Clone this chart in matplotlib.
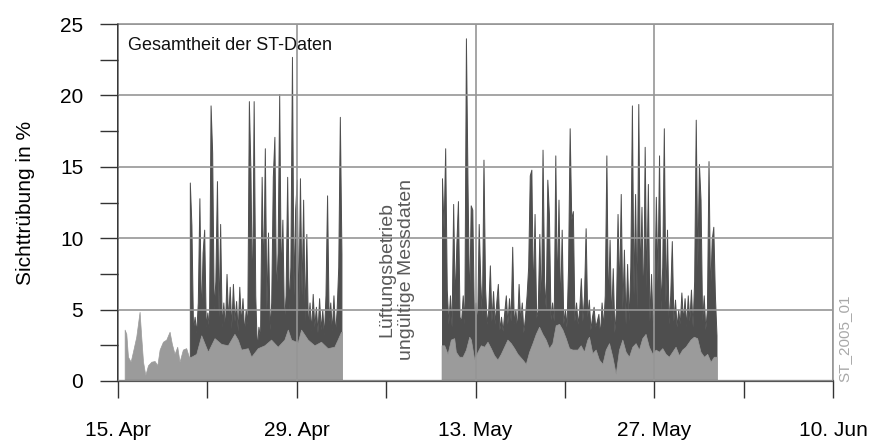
import matplotlib
matplotlib.use("Agg")
import matplotlib.pyplot as plt
import matplotlib.dates as mdates
import numpy as np
import pandas as pd

plt.rcParams['font.family'] = ['Liberation Sans', 'DejaVu Sans']

# ---------------- data ----------------
# ST data (dark), 3-hourly samples
dark1_start = "2005-04-20 15:00"
dark1_vals = [13.9, 10.9, 3.6, 4.5, 3.4, 5.5, 12.8, 4.2,
              9.0, 10.6, 3.8, 4.8, 3.6, 19.3, 16.0, 5.0,
              7.0, 14.0, 4.5, 11.0, 3.8, 5.5, 3.6, 7.5,
              4.2, 6.6, 3.7, 6.8, 4.2, 5.6, 3.5, 6.6,
              4.0, 5.8, 3.4, 5.0, 4.0, 19.6, 14.6, 5.0,
              19.6, 6.0, 2.2, 3.8, 3.0, 14.3, 7.0, 16.3,
              5.0, 10.4, 3.6, 5.5, 14.3, 17.1, 6.0, 9.0,
              20.1, 7.0, 11.3, 4.0, 6.0, 14.3, 5.0, 8.0,
              22.7, 6.0, 12.0, 14.1, 4.5, 14.2, 6.0, 12.7,
              4.2, 10.3, 3.6, 5.5, 3.5, 6.1, 3.8, 5.2,
              3.4, 5.8, 3.6, 5.0, 3.2, 6.0, 13.0, 4.2,
              5.5, 3.5, 6.0, 3.3, 5.0, 8.0, 18.5, 8.9]

dark2_start = "2005-05-10 09:00"
dark2_vals = [14.2, 10.6, 16.3, 6.4, 4.0, 6.0, 3.8, 12.4,
              5.5, 9.6, 12.6, 4.5, 4.2, 6.0, 4.0, 24.0,
              13.8, 5.0, 12.3, 12.0, 4.2, 5.5, 3.8, 11.0,
              7.0, 4.5, 15.5, 6.5, 4.0, 5.0, 8.1, 4.2,
              6.3, 4.0, 5.5, 6.8, 3.6, 4.5, 3.5, 4.8,
              6.0, 4.0, 5.8, 4.2, 9.4, 4.0, 5.0, 3.6,
              6.8, 4.2, 5.5, 3.4, 4.5, 6.0, 8.0, 14.4,
              14.8, 5.5, 11.7, 4.4, 5.0, 10.3, 4.5, 16.2,
              7.0, 5.0, 14.1, 11.7, 4.3, 5.5, 4.2, 15.8,
              6.0, 12.7, 4.8, 10.6, 4.0, 5.0, 3.8, 8.0,
              17.7, 11.3, 11.9, 4.2, 5.5, 4.0, 5.0, 7.2,
              4.2, 6.0, 10.7, 4.5, 5.7, 3.6, 4.5, 5.2,
              3.8, 4.2, 4.7, 3.2, 5.5, 3.8, 6.0, 15.8,
              5.0, 9.9, 4.2, 7.9, 3.4, 5.0, 11.7, 6.0,
              13.1, 5.0, 9.2, 4.0, 8.2, 4.2, 8.0, 19.3,
              6.0, 13.1, 5.0, 19.4, 7.0, 12.2, 4.5, 16.4,
              6.5, 13.8, 4.2, 7.5, 3.8, 5.5, 12.9, 7.0,
              15.8, 5.0, 8.0, 17.7, 5.5, 10.6, 4.0, 6.0,
              9.8, 4.2, 5.7, 3.8, 5.0, 4.0, 6.2, 4.2,
              5.8, 3.8, 6.0, 4.2, 6.4, 3.8, 7.0, 18.3,
              8.0, 15.2, 12.7, 4.2, 6.0, 3.6, 5.0, 15.4,
              6.0, 9.9, 10.8, 6.0, 3.2]

# lower (light grey) series: days since 15 Apr 2005 and values
light1_days = [0.52, 0.65, 0.78, 0.99, 1.17, 1.43, 1.69, 1.82, 1.96, 2.14,
               2.35, 2.61, 2.87, 3.08, 3.26, 3.52, 3.78, 4.04, 4.22, 4.43,
               4.64, 4.82, 5.08, 5.34, 5.55, 5.74, 6.13, 6.52, 7.04, 7.56,
               8.08, 8.6, 9.12, 9.38, 9.65, 10.17, 10.43, 10.95, 11.47, 11.99,
               12.51, 13.03, 13.3, 13.56, 14.08, 14.34, 14.86, 15.38, 15.9, 16.42,
               16.94, 17.2, 17.47, 17.55]
light1_vals = [3.6, 3.3, 1.7, 1.35, 2.05, 3.1, 4.85, 3.1, 1.35, 0.42,
               1.1, 1.35, 1.4, 1.1, 2.2, 2.75, 2.9, 3.45, 2.6, 1.9,
               2.4, 1.35, 2.2, 2.3, 1.7, 1.7, 1.9, 3.2, 2.05, 3.0,
               2.6, 2.5, 3.3, 2.9, 2.2, 2.3, 1.7, 2.3, 2.5, 2.9,
               2.4, 2.9, 3.6, 2.9, 2.7, 3.6, 2.9, 2.5, 2.75, 2.3,
               2.4, 2.9, 3.45, 3.45]

light2_days = [25.34, 25.55, 25.81, 26.07, 26.33, 26.46, 26.72, 26.99, 27.25, 27.51,
               27.64, 27.9, 28.16, 28.42, 28.68, 28.94, 29.2, 29.46, 29.72, 29.98,
               30.24, 30.5, 30.77, 31.03, 31.29, 31.68, 31.94, 32.2, 32.46, 32.72,
               32.98, 33.24, 33.5, 33.76, 34.02, 34.28, 34.55, 34.81, 35.07, 35.33,
               35.59, 35.98, 36.24, 36.5, 36.76, 36.89, 37.15, 37.41, 37.67, 37.94,
               38.2, 38.46, 38.72, 38.98, 39.24, 39.5, 39.76, 40.02, 40.28, 40.54,
               40.8, 41.06, 41.32, 41.58, 41.85, 42.11, 42.37, 42.63, 42.89, 43.15,
               43.41, 43.67, 43.93, 44.19, 44.45, 44.84, 45.1, 45.36, 45.62, 45.89,
               46.15, 46.41, 46.67, 46.88]
light2_vals = [2.5, 2.5, 1.9, 2.9, 3.0, 2.05, 1.7, 1.7, 2.2, 3.1,
               2.9, 1.5, 2.05, 2.5, 2.4, 2.75, 2.3, 1.8, 1.5, 1.9,
               2.4, 2.9, 2.65, 2.3, 1.9, 1.5, 1.2, 2.05, 2.65, 3.3,
               3.8, 3.3, 2.9, 2.3, 2.65, 3.9, 4.0, 3.6, 3.0, 2.3,
               2.2, 2.2, 2.5, 2.05, 2.9, 3.1, 1.95, 2.2, 1.5, 1.2,
               2.2, 2.65, 1.7, 0.5, 2.2, 2.9, 2.05, 1.7, 2.4, 2.65,
               2.2, 3.0, 3.3, 2.4, 1.9, 2.2, 2.05, 2.3, 1.9, 1.7,
               2.05, 2.4, 1.8, 2.2, 2.4, 2.9, 3.1, 3.0, 2.05, 1.7,
               1.9, 1.35, 1.7, 1.7]

x_major = ["2005-04-15", "2005-04-29", "2005-05-13", "2005-05-27", "2005-06-10"]
x_major_labels = ["15. Apr", "29. Apr", "13. May", "27. May", "10. Jun"]
x_minor = ["2005-04-22", "2005-05-06", "2005-05-20", "2005-06-03"]
y_major = [0, 5, 10, 15, 20, 25]
y_minor = [2.5, 7.5, 12.5, 17.5, 22.5]

# ---------------- plotting ----------------
DARK = "#4e4e4e"
LIGHT = "#9b9b9b"
GRID = "#969696"

base = pd.Timestamp("2005-04-15")


def days_to_num(days):
    return mdates.date2num(base + pd.to_timedelta(np.asarray(days), unit="D"))


fig = plt.figure(figsize=(8.76, 4.46), dpi=100)
ax = fig.add_axes([118 / 876, 1 - 381 / 446, 715 / 876, 357 / 446])

for start, vals in [(dark1_start, dark1_vals), (dark2_start, dark2_vals)]:
    t = mdates.date2num(pd.date_range(start, periods=len(vals), freq="3h"))
    ax.fill_between(t, 0, vals, facecolor=DARK, edgecolor=DARK, lw=0.7)

for days, vals in [(light1_days, light1_vals), (light2_days, light2_vals)]:
    ax.fill_between(days_to_num(days), 0, vals, facecolor=LIGHT, edgecolor=LIGHT, lw=0.5)

ax.set_xlim(mdates.date2num(pd.Timestamp(x_major[0])), mdates.date2num(pd.Timestamp(x_major[-1])))
ax.set_ylim(0, 25)

ax.set_xticks(mdates.date2num(pd.to_datetime(x_major)))
ax.set_xticklabels(x_major_labels)
ax.set_xticks(mdates.date2num(pd.to_datetime(x_minor)), minor=True)
ax.set_yticks(y_major)
ax.set_yticks(y_minor, minor=True)

ax.tick_params(axis="x", which="both", length=12.5, width=1.0, color="#333333",
               labelsize=15, pad=16, direction="out")
ax.tick_params(axis="y", which="both", length=13, width=1.0, color="#333333",
               labelsize=15, pad=12, direction="out")

ax.set_axisbelow(False)
ax.grid(True, which="major", color=GRID, lw=1.2)

for s in ["top", "right"]:
    ax.spines[s].set_color(GRID)
    ax.spines[s].set_linewidth(1.2)
ax.spines["left"].set_color("#111111")
ax.spines["left"].set_linewidth(1.2)
ax.spines["bottom"].set_color("#555555")
ax.spines["bottom"].set_linewidth(1.6)

ax.set_ylabel("Sichttrübung in %", fontsize=15)
ax.yaxis.set_label_coords(-0.116, 0.5)

ax.text(0.014, 0.941, "Gesamtheit der ST-Daten", transform=ax.transAxes,
        fontsize=13, ha="left", va="center", color="#111111")

ax.text(days_to_num([21.8])[0], 7.8, "Lüftungsbetrieb\nungültige Messdaten",
        rotation=90, ha="center", va="center", multialignment="center",
        fontsize=14, color="#5a5a5a", linespacing=1.2)

fig.text(844 / 876, 1 - 382 / 446, "ST_2005_01", rotation=90, ha="center",
         va="bottom", fontsize=11, color="#a8a8a8")

fig.savefig("out.png", dpi=100)
